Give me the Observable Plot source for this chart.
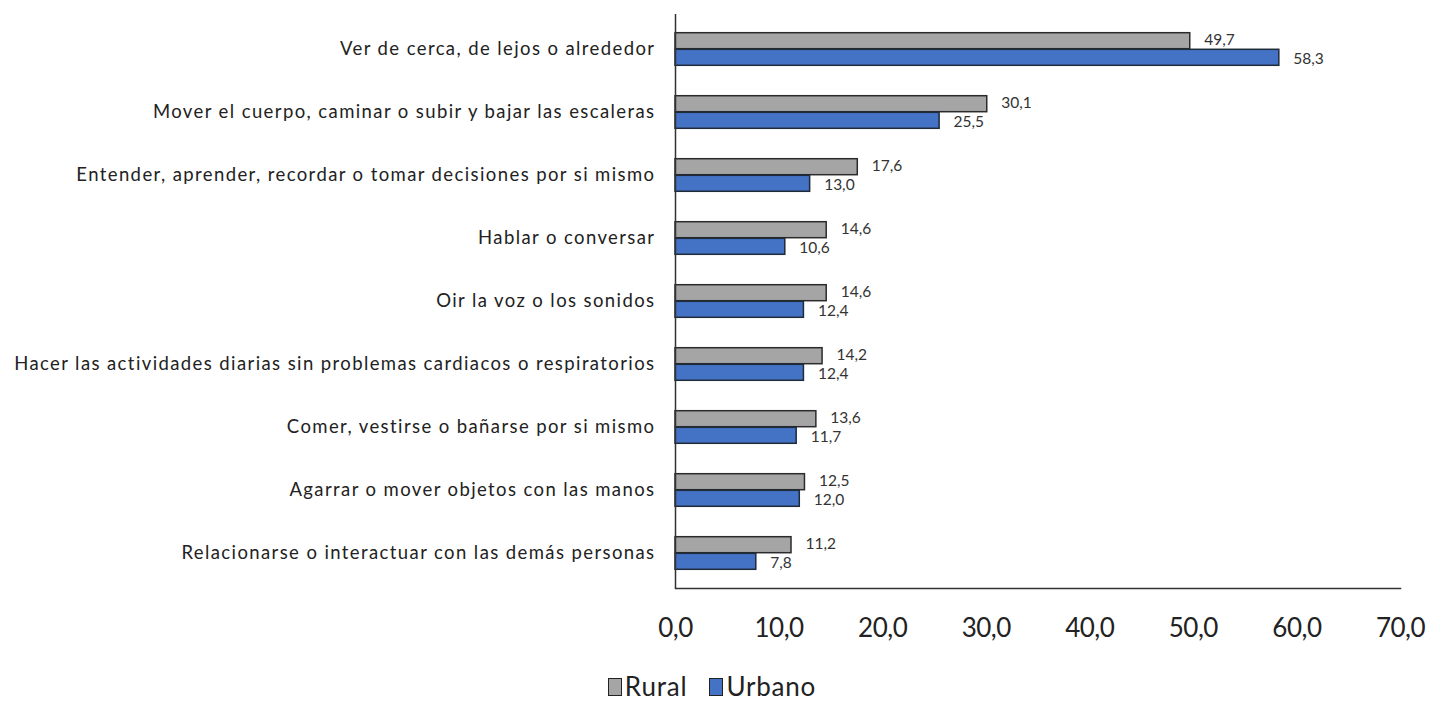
<!DOCTYPE html>
<html>
<head>
<meta charset="utf-8">
<script src="https://cdn.jsdelivr.net/npm/d3@7"></script>
<script src="https://cdn.jsdelivr.net/npm/@observablehq/plot@0.6"></script>
<style>
  html, body { margin: 0; padding: 0; background: #fff; }
  body { width: 1432px; height: 702px; overflow: hidden; position: relative; font-family: Lato, "Open Sans", sans-serif; }
  #legend { position: absolute; left: 0; top: 672px; width: 1432px; display: flex; justify-content: center; align-items: flex-start; font-size: 26px; line-height: 28px; color: #222; padding-left: 14px; letter-spacing: 0.8px; box-sizing: border-box; }
  .item { display: flex; align-items: flex-start; margin: 0 22px 0 0; }
  .sw { width: 12px; height: 16px; border: 1.5px solid #222; margin-right: 3px; margin-top: 6px; }
  g[aria-label="y-axis tick label"] text { letter-spacing: 1.4px; }
  g[aria-label="x-axis tick label"] text { letter-spacing: -0.5px; }
</style>
</head>
<body>
<div id="chart"></div>
<div id="legend"></div>
<script>
const categories = [
  "Ver de cerca, de lejos o alrededor",
  "Mover el cuerpo, caminar o subir y bajar las escaleras",
  "Entender, aprender, recordar o tomar decisiones por si mismo",
  "Hablar o conversar",
  "Oir la voz o los sonidos",
  "Hacer las actividades diarias sin problemas cardiacos o respiratorios",
  "Comer, vestirse o bañarse por si mismo",
  "Agarrar o mover objetos con las manos",
  "Relacionarse o interactuar con las demás personas"
];
const rural  = [49.7, 30.1, 17.6, 14.6, 14.6, 14.2, 13.6, 12.5, 11.2];
const urbano = [58.3, 25.5, 13.0, 10.6, 12.4, 12.4, 11.7, 12.0, 7.8];
const xTicks = [0, 10, 20, 30, 40, 50, 60, 70];
const seriesNames = ["Rural", "Urbano"];
const seriesColors = ["#A5A5A5", "#4472C4"];

const ruralData = categories.map((c, i) => ({cat: c, value: rural[i]}));
const urbanoData = categories.map((c, i) => ({cat: c, value: urbano[i]}));
const fmt = v => v.toFixed(1).replace(".", ",");
const off = 8.3;

const chart = Plot.plot({
  width: 1432,
  height: 672,
  marginLeft: 675,
  marginRight: 32,
  marginTop: 14,
  marginBottom: 84,
  style: {fontFamily: "Lato, 'Open Sans', sans-serif", color: "#222", background: "#fff"},
  x: {domain: [0, 70], ticks: xTicks, label: null},
  y: {domain: categories, paddingInner: 0.74, paddingOuter: 0.37, label: null},
  marks: [
    Plot.barX(ruralData, {x: "value", y: "cat", dy: -off, fill: seriesColors[0], stroke: "#2b2b2b", strokeWidth: 1.5}),
    Plot.barX(urbanoData, {x: "value", y: "cat", dy: off, fill: seriesColors[1], stroke: "#1f2a3a", strokeWidth: 1.5}),
    Plot.text(ruralData, {x: "value", y: "cat", dy: -off - 0.8, dx: 14, text: d => fmt(d.value), textAnchor: "start", fontSize: 15.5, fill: "#333"}),
    Plot.text(urbanoData, {x: "value", y: "cat", dy: off + 0.8, dx: 14, text: d => fmt(d.value), textAnchor: "start", fontSize: 15.5, fill: "#333"}),
    Plot.ruleX([0], {stroke: "#333", strokeWidth: 1.5}),
    Plot.frame({anchor: "bottom", stroke: "#333", strokeWidth: 1.5}),
    Plot.axisY({tickSize: 0, tickPadding: 20, fontSize: 18.5, label: null}),
    Plot.axisX({ticks: xTicks, tickSize: 0, tickPadding: 30, fontSize: 26, tickFormat: fmt, label: null})
  ]
});
document.getElementById("chart").appendChild(chart);

const legend = document.getElementById("legend");
seriesNames.forEach((n, i) => {
  const it = document.createElement("div");
  it.className = "item";
  const sw = document.createElement("div");
  sw.className = "sw";
  sw.style.background = seriesColors[i];
  const t = document.createElement("span");
  t.textContent = n;
  it.appendChild(sw); it.appendChild(t);
  legend.appendChild(it);
});
</script>
</body>
</html>
